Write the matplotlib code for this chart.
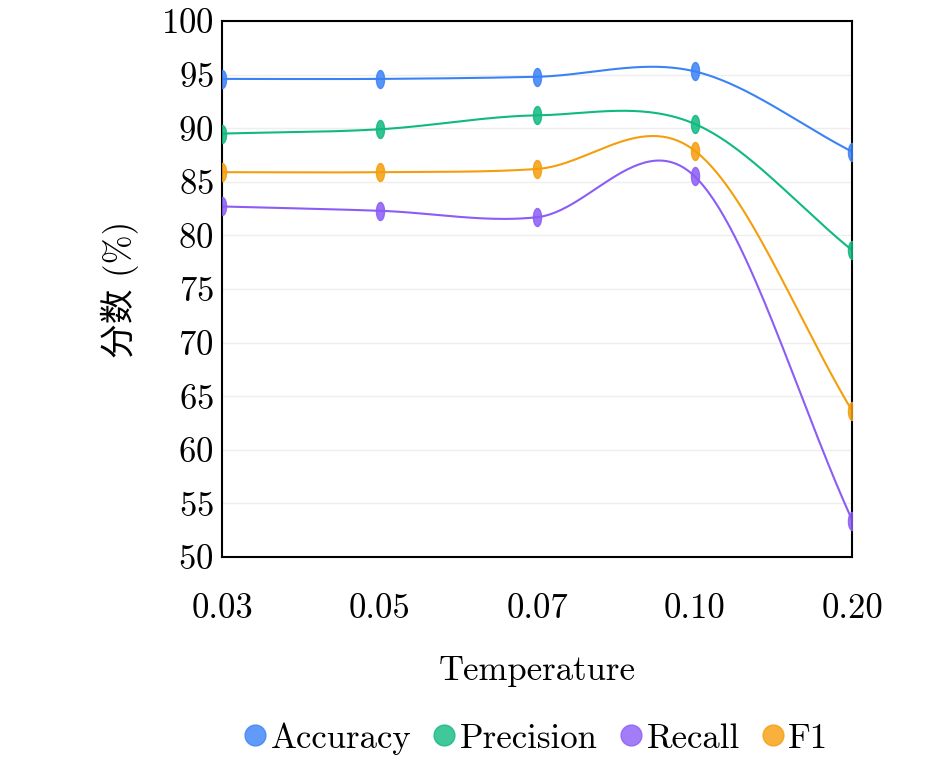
import matplotlib
matplotlib.use("Agg")
import matplotlib.pyplot as plt
import numpy as np
from matplotlib.path import Path

plt.rcParams['font.family'] = ['cmr10', 'Noto Sans CJK SC']
plt.rcParams['axes.formatter.use_mathtext'] = True
plt.rcParams['font.size'] = 25

temps = ['0.03', '0.05', '0.07', '0.10', '0.20']
accuracy = [94.6, 94.6, 94.8, 95.3, 87.8]
precision = [89.5, 89.9, 91.2, 90.4, 78.6]
recall = [82.7, 82.3, 81.7, 85.5, 53.4]
f1 = [85.9, 85.9, 86.2, 87.9, 63.6]

names = ['Accuracy', 'Precision', 'Recall', 'F1']
series = [accuracy, precision, recall, f1]
colors = ['#3b82f6', '#10b981', '#8b5cf6', '#f59e0b']


def smooth(y, n=60):
    # catmull-rom style cubic hermite, just for the drawn line
    y = np.asarray(y, float); k = len(y)
    m = np.zeros(k)
    m[1:-1] = (y[2:] - y[:-2]) / 2
    m[0] = y[1] - y[0]; m[-1] = y[-1] - y[-2]
    xs, ys = [], []
    for i in range(k - 1):
        t = np.linspace(0, 1, n)
        h00 = 2*t**3 - 3*t**2 + 1; h10 = t**3 - 2*t**2 + t
        h01 = -2*t**3 + 3*t**2; h11 = t**3 - t**2
        xs.append(i + t)
        ys.append(h00*y[i] + h10*m[i] + h01*y[i+1] + h11*m[i+1])
    return np.concatenate(xs), np.concatenate(ys)


th = np.linspace(0, 2 * np.pi, 40)
ellipse = Path(np.column_stack([0.45 * np.cos(th), np.sin(th)]))

fig = plt.figure(figsize=(9.45, 7.78), dpi=100)
ax = fig.add_axes([0.235, 0.284, 0.667, 0.689])
xpos = np.arange(len(temps))
for name, vals, c in zip(names, series, colors):
    xs, ys = smooth(vals)
    ax.plot(xs, ys, color=c, lw=1.5, zorder=2)
    ax.plot(xpos, vals, ls='none', marker=ellipse, ms=13, color=c, alpha=0.85, zorder=3)
    ax.plot([], [], ls='none', marker='o', ms=15, color=c, alpha=0.8, label=name)

ax.set_xlim(0, 4)
ax.set_ylim(50, 100)
ax.set_yticks(np.arange(50, 101, 5))
ax.set_xticks(xpos)
ax.set_xticklabels(temps)
ax.tick_params(length=0, pad=6)
ax.tick_params(axis='x', pad=26)
ax.yaxis.grid(True, color='#eeeeee', lw=1)
ax.set_axisbelow(True)
for s in ax.spines.values():
    s.set_linewidth(1.5)
ax.set_xlabel('Temperature', labelpad=22)
ax.set_ylabel('分数 (%)', labelpad=16)
fig.legend(loc='lower center', bbox_to_anchor=(0.565, -0.01), ncol=4, frameon=False,
           handletextpad=0.0, columnspacing=0.5, handlelength=0.9)
fig.savefig('out.png', dpi=100)
